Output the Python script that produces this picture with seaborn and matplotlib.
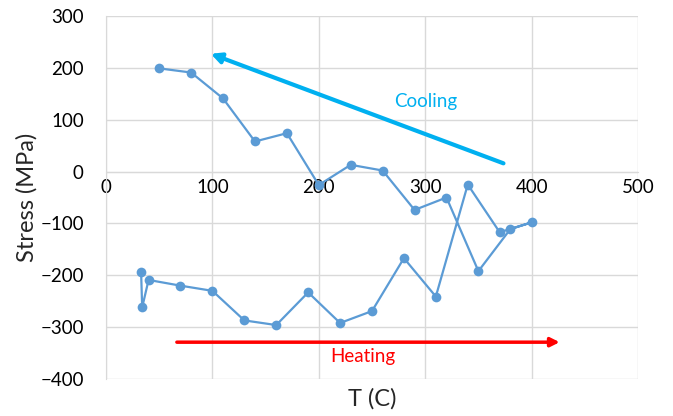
import matplotlib
matplotlib.use("Agg")
import matplotlib.pyplot as plt
import seaborn as sns
import pandas as pd

# data: heating run, then cooling run
temp = [33, 34, 40, 70, 100, 130, 160, 190, 220, 250, 280, 310, 340, 370, 400,
        380, 350, 320, 290, 260, 230, 200, 170, 140, 110, 80, 50]
stress = [-194, -262, -209, -220, -230, -287, -296, -233, -292, -269, -167, -241, -25, -117, -98,
          -111, -192, -50, -74, 2, 13, -26, 74, 58, 141, 191, 199]
x_ticks = [0, 100, 200, 300, 400, 500]
y_ticks = [-400, -300, -200, -100, 0, 100, 200, 300]

df = pd.DataFrame({"T": temp, "Stress": stress})

sns.set_style("white")
plt.rcParams["font.family"] = ["Lato", "DejaVu Sans"]

fig = plt.figure(figsize=(6.73, 4.16), dpi=100)
ax = fig.add_axes([106 / 673, 1 - 379 / 416, (638 - 106) / 673, (379 - 16) / 416])

sns.lineplot(data=df, x="T", y="Stress", sort=False, estimator=None, ax=ax,
             color="#5B9BD5", linewidth=1.6, marker="o", markersize=7,
             markeredgewidth=0, markerfacecolor="#5B9BD5", zorder=3)

ax.set_xlim(0, 500)
ax.set_ylim(-400, 300)
ax.set_xticks(x_ticks)
ax.set_yticks(y_ticks)
ax.grid(True, color="#D9D9D9", linewidth=1)
ax.set_axisbelow(True)

for s in ["top", "right"]:
    ax.spines[s].set_visible(False)
ax.spines["left"].set_color("#D9D9D9")
ax.spines["bottom"].set_color("#D9D9D9")
ax.spines["bottom"].set_position(("data", 0))
ax.tick_params(axis="both", length=0, labelsize=13.5, colors="black")
ax.tick_params(axis="y", pad=16)
ax.tick_params(axis="x", pad=5)

ax.set_xlabel("")
ax.set_ylabel("Stress (MPa)", fontsize=17, labelpad=2)
fig.text((106 + 638) / 2 / 673, 1 - 399 / 416, "T (C)", fontsize=17, ha="center", va="center")

# cooling / heating arrows
ax.annotate("", xy=(96, 229), xytext=(376, 14),
            arrowprops=dict(arrowstyle="-|>", color="#00B0F0", lw=3, mutation_scale=15))
ax.text(300, 136, "Cooling", color="#00B0F0", fontsize=13.5, ha="center", va="center")
ax.annotate("", xy=(429, -329), xytext=(64, -329),
            arrowprops=dict(arrowstyle="-|>", color="#FF0000", lw=2.5, mutation_scale=13))
ax.text(241, -356, "Heating", color="#FF0000", fontsize=13.5, ha="center", va="center")

fig.savefig("out.png", dpi=100)
